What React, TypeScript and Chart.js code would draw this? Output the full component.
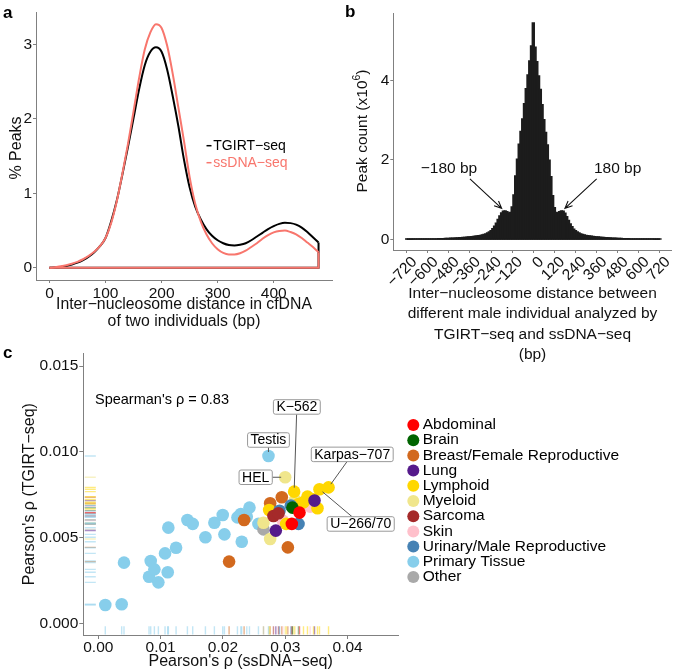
import React, { useEffect, useRef } from "react";
import { Chart, registerables } from "chart.js";

Chart.register(...registerables);

const FONT = '"Liberation Sans", Arial, Helvetica, sans-serif';
const AXIS_COLOR = "#808080";
const TEXT_COLOR = "#111111";
const CW = 675;
const CH = 672;

// ---------------- panel a : density of inter-nucleosome distances ----------------
const A_DIST = [0, 10, 20, 30, 40, 50, 60, 70, 80, 90, 100, 110, 120, 130, 140, 150, 160, 170, 180, 190, 200, 210, 220, 230, 240, 250, 260, 270, 280, 290, 300, 310, 320, 330, 340, 350, 360, 370, 380, 390, 400, 410, 420, 430, 440, 450, 460, 470, 480];
const A_TGIRT = [0, 0.005, 0.012, 0.025, 0.045, 0.07, 0.105, 0.15, 0.21, 0.29, 0.40, 0.62, 0.90, 1.25, 1.62, 2.01, 2.40, 2.72, 2.90, 2.96, 2.90, 2.66, 2.30, 1.90, 1.45, 1.08, 0.82, 0.65, 0.52, 0.43, 0.37, 0.33, 0.305, 0.30, 0.31, 0.33, 0.37, 0.42, 0.47, 0.52, 0.56, 0.59, 0.605, 0.60, 0.58, 0.54, 0.48, 0.41, 0.34];
const A_SSDNA = [0, 0.008, 0.02, 0.035, 0.055, 0.08, 0.115, 0.16, 0.215, 0.29, 0.40, 0.60, 0.89, 1.26, 1.66, 2.10, 2.55, 2.93, 3.16, 3.27, 3.22, 2.98, 2.60, 2.15, 1.70, 1.22, 0.86, 0.62, 0.45, 0.33, 0.25, 0.20, 0.18, 0.18, 0.195, 0.23, 0.28, 0.33, 0.39, 0.44, 0.475, 0.495, 0.50, 0.48, 0.45, 0.40, 0.34, 0.28, 0.21];
const A_XTICKS = [0, 100, 200, 300, 400];
const A_YTICKS = [0, 1, 2, 3];
const A_SERIES = ["TGIRT−seq", "ssDNA−seq"];

// ---------------- panel b : histogram of distances (x10^6) ----------------
const B_FIRST_BIN = -720;
const B_BIN_WIDTH = 10;
const B_COUNTS = [
  0.005, 0.006, 0.006, 0.006, 0.007, 0.007, 0.007,
  0.008, 0.008, 0.009, 0.009, 0.010, 0.010, 0.011, 0.011, 0.012, 0.013,
  0.014, 0.015, 0.016, 0.018, 0.019, 0.021, 0.023, 0.025, 0.027, 0.029,
  0.031, 0.034, 0.037, 0.040, 0.043, 0.046, 0.050, 0.055, 0.060, 0.064,
  0.068, 0.072, 0.078, 0.085, 0.092, 0.100, 0.110, 0.125, 0.140, 0.160,
  0.185, 0.220, 0.270, 0.330, 0.410, 0.500, 0.590, 0.670, 0.710, 0.720,
  0.700, 0.670, 0.680, 0.820, 1.120, 1.600, 2.020, 2.400, 2.720, 3.040,
  3.420, 3.800, 4.150, 4.500, 4.880,
  5.46,
  4.85, 4.48, 4.12, 3.78, 3.40, 3.02, 2.70, 2.38, 2.00, 1.58,
  1.10, 0.80, 0.68, 0.67, 0.70, 0.72, 0.71, 0.66, 0.57, 0.48,
  0.39, 0.32, 0.26, 0.22, 0.185, 0.16, 0.14, 0.125, 0.11, 0.10,
  0.092, 0.085, 0.078, 0.072, 0.068, 0.064, 0.060, 0.055, 0.050, 0.046,
  0.043, 0.040, 0.037, 0.034, 0.031, 0.029, 0.027, 0.025, 0.023, 0.021,
  0.019, 0.018, 0.016, 0.015, 0.014, 0.013, 0.012, 0.011, 0.011, 0.010,
  0.010, 0.009, 0.009, 0.008, 0.008, 0.007, 0.007, 0.007, 0.006, 0.006,
  0.006, 0.005,
];
const B_XTICKS = [-720, -600, -480, -360, -240, -120, 0, 120, 240, 360, 480, 600, 720];
const B_YTICKS = [0, 2, 4];
const B_ANNOT_TEXT = ["−180 bp", "180 bp"];
const B_ANNOT_TARGET_X = [-180, 180];
const B_ANNOT_TARGET_Y = [0.78, 0.78];

// ---------------- panel c : Pearson correlations ----------------
const C_GROUPS = ["Abdominal", "Brain", "Breast/Female Reproductive", "Lung", "Lymphoid", "Myeloid", "Sarcoma", "Skin", "Urinary/Male Reproductive", "Primary Tissue", "Other"];
const ABDOMINAL_X = [0.03229, 0.03106];
const ABDOMINAL_Y = [0.00646, 0.00580];
const BRAIN_X = [0.03116];
const BRAIN_Y = [0.00675];
const BREAST_X = [0.02099, 0.02340, 0.02758, 0.02945, 0.03042];
const BREAST_Y = [0.00360, 0.00603, 0.00700, 0.00735, 0.00443];
const LUNG_X = [0.03470, 0.02849];
const LUNG_Y = [0.00716, 0.00541];
const LYMPHOID_X = [0.03143, 0.03550, 0.03695, 0.03357, 0.03293, 0.03454, 0.03518, 0.02742, 0.03015, 0.03213];
const LYMPHOID_Y = [0.00768, 0.00782, 0.00793, 0.00739, 0.00706, 0.00723, 0.00671, 0.00661, 0.00580, 0.00696];
const MYELOID_X = [0.02999, 0.02651, 0.02758, 0.03159];
const MYELOID_Y = [0.00852, 0.00587, 0.00492, 0.00720];
const SARCOMA_X = [0.02811, 0.02892];
const SARCOMA_Y = [0.00626, 0.00642];
const SKIN_X = [0.02961, 0.03400];
const SKIN_Y = [0.00599, 0.00681];
const URINARY_X = [0.03213, 0.03090, 0.02908];
const URINARY_Y = [0.00580, 0.00687, 0.00657];
const PRIMARY_X = [0.00112, 0.00375, 0.00412, 0.00841, 0.00814, 0.00900, 0.00964, 0.01114, 0.01071, 0.01124, 0.01248, 0.01430, 0.01515, 0.01719, 0.01863, 0.01997, 0.02024, 0.02302, 0.02233, 0.02287, 0.02426, 0.02383, 0.02570, 0.02731];
const PRIMARY_Y = [0.00107, 0.00111, 0.00354, 0.00364, 0.00272, 0.00315, 0.00239, 0.00298, 0.00408, 0.00558, 0.00441, 0.00603, 0.00580, 0.00502, 0.00587, 0.00632, 0.00519, 0.00476, 0.00618, 0.00638, 0.00675, 0.00622, 0.00580, 0.00976];
const OTHER_X = [0.02651];
const OTHER_Y = [0.00548];
const C_XTICKS = [0, 0.01, 0.02, 0.03, 0.04];
const C_XTICK_LABELS = ["0.00", "0.01", "0.02", "0.03", "0.04"];
const C_YTICKS = [0, 0.005, 0.01, 0.015];
const C_YTICK_LABELS = ["0.000", "0.005", "0.010", "0.015"];
const C_SPEARMAN = "Spearman's ρ = 0.83";
const C_LABEL_TEXT = ["K−562", "Testis", "HEL", "Karpas−707", "U−266/70"];
const C_LABEL_GROUP = ["Lymphoid", "Primary Tissue", "Myeloid", "Lymphoid", "Lymphoid"];
const C_LABEL_INDEX = [0, 23, 0, 2, 1];

// ---------------- styles ----------------
const GROUP_COLORS: Record<string, string> = {
  Abdominal: "#FF0000",
  Brain: "#006400",
  "Breast/Female Reproductive": "#D2691E",
  Lung: "#551A8B",
  Lymphoid: "#FFD700",
  Myeloid: "#F0E68C",
  Sarcoma: "#A52A2A",
  Skin: "#FFC0CB",
  "Urinary/Male Reproductive": "#4682B4",
  "Primary Tissue": "#87CEEB",
  Other: "#A9A9A9",
};
const GROUP_DATA: Record<string, [number[], number[]]> = {
  Abdominal: [ABDOMINAL_X, ABDOMINAL_Y],
  Brain: [BRAIN_X, BRAIN_Y],
  "Breast/Female Reproductive": [BREAST_X, BREAST_Y],
  Lung: [LUNG_X, LUNG_Y],
  Lymphoid: [LYMPHOID_X, LYMPHOID_Y],
  Myeloid: [MYELOID_X, MYELOID_Y],
  Sarcoma: [SARCOMA_X, SARCOMA_Y],
  Skin: [SKIN_X, SKIN_Y],
  "Urinary/Male Reproductive": [URINARY_X, URINARY_Y],
  "Primary Tissue": [PRIMARY_X, PRIMARY_Y],
  Other: [OTHER_X, OTHER_Y],
};
// top-most first
const DRAW_ORDER = ["Abdominal", "Lung", "Brain", "Sarcoma", "Urinary/Male Reproductive", "Lymphoid", "Myeloid", "Skin", "Breast/Female Reproductive", "Other", "Primary Tissue"];
// label box centre offsets from point (px)
const LABEL_OFFSETS: [number, number][] = [[2.7, -84.7], [0, -16], [-29.5, 0], [23.7, -33], [41.2, 34.7]];

type TOpts = { size?: number; weight?: string; align?: CanvasTextAlign; baseline?: CanvasTextBaseline; color?: string; rot?: number };
function drawText(ctx: CanvasRenderingContext2D, s: string, x: number, y: number, o: TOpts = {}) {
  ctx.save();
  ctx.translate(x, y);
  if (o.rot) ctx.rotate(o.rot);
  ctx.font = `${o.weight ?? "normal"} ${o.size ?? 15.5}px ${FONT}`;
  ctx.fillStyle = o.color ?? TEXT_COLOR;
  ctx.textAlign = o.align ?? "center";
  ctx.textBaseline = o.baseline ?? "middle";
  ctx.fillText(s, 0, 0);
  ctx.restore();
}

function linScale(o: { min: number; max: number; ticks: number[]; fmt: (v: number) => string; size: number; horizontal: boolean; tickLen?: number; pad?: number; rot?: number; labelOffset?: number }) {
  return {
    type: "linear",
    bounds: "data",
    min: o.min,
    max: o.max,
    offset: false,
    afterBuildTicks: (s: any) => {
      s.ticks = o.ticks.map((v) => ({ value: v }));
    },
    afterFit: (s: any) => {
      if (o.horizontal) s.height = o.size;
      else s.width = o.size;
      s.paddingLeft = 0;
      s.paddingRight = 0;
      s.paddingTop = 0;
      s.paddingBottom = 0;
    },
    ticks: {
      autoSkip: false,
      padding: o.pad ?? 2,
      color: TEXT_COLOR,
      font: { family: FONT, size: 15.5 },
      maxRotation: o.rot ?? 0,
      minRotation: o.rot ?? 0,
      labelOffset: o.labelOffset ?? 0,
      callback: (v: any) => o.fmt(Number(v)),
    },
    grid: { display: true, drawOnChartArea: false, drawTicks: true, tickLength: o.tickLen ?? 3, color: AXIS_COLOR, lineWidth: 1, offset: false },
    border: { display: true, color: AXIS_COLOR, width: 1 },
  };
}

const baseOptions = {
  animation: false,
  responsive: false,
  devicePixelRatio: 1,
  events: [],
  plugins: { legend: { display: false }, tooltip: { enabled: false } },
};

// ---------- config a ----------
function configA(): any {
  const curve = (ys: number[], color: string) => ({
    data: A_DIST.map((x, i) => ({ x, y: ys[i] })),
    showLine: true,
    borderColor: color,
    borderWidth: 2,
    pointRadius: 0,
    cubicInterpolationMode: "monotone",
    fill: false,
  });
  const outline = (ys: number[], color: string) => ({
    data: [
      { x: A_DIST[A_DIST.length - 1], y: ys[ys.length - 1] },
      { x: A_DIST[A_DIST.length - 1], y: 0 },
      { x: A_DIST[0], y: 0 },
    ],
    showLine: true,
    borderColor: color,
    borderWidth: 2,
    pointRadius: 0,
    tension: 0,
    fill: false,
  });
  const colors = ["#000000", "#F8766D"];
  return {
    type: "scatter",
    data: {
      datasets: [outline(A_SSDNA, colors[1]), curve(A_SSDNA, colors[1]), outline(A_TGIRT, colors[0]), curve(A_TGIRT, colors[0])],
    },
    options: {
      ...baseOptions,
      layout: { padding: { left: 0, top: 12, right: CW - 332, bottom: CH - 280 - 25 } },
      scales: {
        x: linScale({ min: -24, max: 504, ticks: A_XTICKS, fmt: (v) => String(v), size: 25, horizontal: true, tickLen: 3, pad: 1 }),
        y: linScale({ min: -0.1635, max: 3.434, ticks: A_YTICKS, fmt: (v) => String(v), size: 36, horizontal: false, tickLen: 3, pad: 1 }),
      },
    },
    plugins: [
      {
        id: "panelA",
        afterDraw(chart: any) {
          const ctx = chart.ctx as CanvasRenderingContext2D;
          const ca = chart.chartArea;
          const cx = (ca.left + ca.right) / 2;
          drawText(ctx, "a", 3, 18, { size: 17, weight: "bold", align: "left", baseline: "alphabetic", color: "#000" });
          drawText(ctx, "% Peaks", 16.7, 148, { rot: -Math.PI / 2, size: 16 });
          drawText(ctx, "Inter−nucleosome distance in cfDNA", cx, 305, { size: 15.8 });
          drawText(ctx, "of two individuals (bp)", cx, 321.7, { size: 15.8 });
          const ly = [145.7, 162.7];
          A_SERIES.forEach((s, i) => {
            ctx.save();
            ctx.strokeStyle = colors[i];
            ctx.lineWidth = 1.5;
            ctx.beginPath();
            ctx.moveTo(206.5, ly[i]);
            ctx.lineTo(211.5, ly[i]);
            ctx.stroke();
            ctx.restore();
            drawText(ctx, s, 213.3, ly[i], { size: 14, align: "left", color: colors[i] });
          });
        },
      },
    ],
  };
}

// ---------- config b ----------
function configB(): any {
  const bars = B_COUNTS.map((y, i) => ({ x: B_FIRST_BIN + i * B_BIN_WIDTH, y }));
  const fmt = (v: number) => (v < 0 ? "\u2212" + String(Math.abs(v)) : String(v));
  const xSize = 50;
  return {
    type: "bar",
    data: {
      datasets: [
        {
          type: "line",
          data: [
            { x: bars[0].x, y: 0 },
            { x: bars[bars.length - 1].x, y: 0 },
          ],
          borderColor: "#1a1a1a",
          borderWidth: 1,
          pointRadius: 0,
          tension: 0,
        },
        {
          data: bars,
          backgroundColor: "#1c1c1c",
          borderWidth: 0,
          barPercentage: 1.25,
          categoryPercentage: 1,
          inflateAmount: 0.6,
          grouped: false,
        },
      ],
    },
    options: {
      ...baseOptions,
      layout: { padding: { left: 363.3, top: 13.3, right: 3.3, bottom: CH - 250 - xSize } },
      scales: {
        x: linScale({ min: -796, max: 787, ticks: B_XTICKS, fmt, size: xSize, horizontal: true, tickLen: 3, pad: 0, rot: 45, labelOffset: 8 }),
        y: linScale({ min: -0.27, max: 5.7, ticks: B_YTICKS, fmt: (v) => String(v), size: 30, horizontal: false, tickLen: 3, pad: 1 }),
      },
    },
    plugins: [
      {
        id: "panelB",
        afterDraw(chart: any) {
          const ctx = chart.ctx as CanvasRenderingContext2D;
          const ca = chart.chartArea;
          const xs = chart.scales.x;
          const ys = chart.scales.y;
          const cx = (ca.left + ca.right) / 2;
          drawText(ctx, "b", 345, 17, { size: 17, weight: "bold", align: "left", baseline: "alphabetic", color: "#000" });
          // y title with superscript
          ctx.save();
          ctx.translate(361.7, 131);
          ctx.rotate(-Math.PI / 2);
          ctx.fillStyle = TEXT_COLOR;
          ctx.textAlign = "left";
          ctx.textBaseline = "alphabetic";
          const big = `15.5px ${FONT}`;
          const small = `10.5px ${FONT}`;
          ctx.font = big;
          const s1 = "Peak count (x10";
          const w1 = ctx.measureText(s1).width;
          const w3 = ctx.measureText(")").width;
          ctx.font = small;
          const w2 = ctx.measureText("6").width;
          let x = -(w1 + w2 + w3) / 2;
          ctx.font = big;
          ctx.fillText(s1, x, 5.5);
          x += w1;
          ctx.font = small;
          ctx.fillText("6", x, -1.5);
          x += w2;
          ctx.font = big;
          ctx.fillText(")", x, 5.5);
          ctx.restore();
          const lines = ["Inter−nucleosome distance between", "different male individual analyzed by", "TGIRT−seq and ssDNA−seq", "(bp)"];
          const ly = [293.3, 314, 334.5, 355];
          lines.forEach((l, i) => drawText(ctx, l, cx, ly[i]));
          // arrows
          B_ANNOT_TEXT.forEach((t, i) => {
            const sgn = B_ANNOT_TARGET_X[i] < 0 ? -1 : 1;
            const tipX = xs.getPixelForValue(B_ANNOT_TARGET_X[i]);
            const tipY = ys.getPixelForValue(B_ANNOT_TARGET_Y[i]);
            const tailX = tipX + sgn * 31.7;
            const tailY = tipY - 29.5;
            ctx.save();
            ctx.strokeStyle = "#111";
            ctx.lineWidth = 1.1;
            ctx.beginPath();
            ctx.moveTo(tailX, tailY);
            ctx.lineTo(tipX, tipY);
            const a = Math.atan2(tipY - tailY, tipX - tailX);
            const L = 8;
            const th = 0.42;
            ctx.moveTo(tipX - L * Math.cos(a - th), tipY - L * Math.sin(a - th));
            ctx.lineTo(tipX, tipY);
            ctx.lineTo(tipX - L * Math.cos(a + th), tipY - L * Math.sin(a + th));
            ctx.stroke();
            ctx.restore();
            drawText(ctx, t, tailX + sgn * 21, tailY - 10.5);
          });
        },
      },
    ],
  };
}

// ---------- config c ----------
function configC(): any {
  const datasets = DRAW_ORDER.map((g) => {
    const [xs, ys] = GROUP_DATA[g];
    return {
      label: g,
      data: xs.map((x, i) => ({ x, y: ys[i] })),
      pointRadius: 6.3,
      pointBackgroundColor: GROUP_COLORS[g],
      pointBorderWidth: 0,
      pointBorderColor: GROUP_COLORS[g],
      showLine: false,
    };
  });
  const pickLabel = (v: number, ticks: number[], labels: string[]) => {
    const i = ticks.findIndex((t) => Math.abs(t - v) < 1e-9);
    return i >= 0 ? labels[i] : "";
  };
  return {
    type: "scatter",
    data: { datasets },
    options: {
      ...baseOptions,
      layout: { padding: { left: 23.3, top: 353.3, right: CW - 398, bottom: CH - 635 - 25 } },
      scales: {
        x: linScale({ min: -0.00241, max: 0.0481, ticks: C_XTICKS, fmt: (v) => pickLabel(v, C_XTICKS, C_XTICK_LABELS), size: 25, horizontal: true, tickLen: 4, pad: -1 }),
        y: linScale({ min: -0.00068, max: 0.01575, ticks: C_YTICKS, fmt: (v) => pickLabel(v, C_YTICKS, C_YTICK_LABELS), size: 60, horizontal: false, tickLen: 4, pad: 1 }),
      },
    },
    plugins: [
      {
        id: "panelC",
        beforeDatasetsDraw(chart: any) {
          const ctx = chart.ctx as CanvasRenderingContext2D;
          const ca = chart.chartArea;
          const xs = chart.scales.x;
          const ys = chart.scales.y;
          ctx.save();
          ctx.globalAlpha = 0.5;
          ctx.lineWidth = 1.4;
          C_GROUPS.forEach((g) => {
            const [gx, gy] = GROUP_DATA[g];
            ctx.strokeStyle = GROUP_COLORS[g];
            gx.forEach((v, i) => {
              const px = xs.getPixelForValue(v);
              const py = ys.getPixelForValue(gy[i]);
              ctx.beginPath();
              ctx.moveTo(px, ca.bottom - 0.5);
              ctx.lineTo(px, ca.bottom - 8.7);
              ctx.moveTo(ca.left + 1.5, py);
              ctx.lineTo(ca.left + 12.5, py);
              ctx.stroke();
            });
          });
          ctx.restore();
        },
        afterDatasetsDraw(chart: any) {
          const ctx = chart.ctx as CanvasRenderingContext2D;
          const xs = chart.scales.x;
          const ys = chart.scales.y;
          ctx.save();
          C_LABEL_TEXT.forEach((t, k) => {
            const [gx, gy] = GROUP_DATA[C_LABEL_GROUP[k]];
            const px = xs.getPixelForValue(gx[C_LABEL_INDEX[k]]);
            const py = ys.getPixelForValue(gy[C_LABEL_INDEX[k]]);
            const cx = px + LABEL_OFFSETS[k][0];
            const cy = py + LABEL_OFFSETS[k][1];
            ctx.font = `14px ${FONT}`;
            const w = ctx.measureText(t).width + 6;
            const h = 14.5;
            const x0 = cx - w / 2;
            const y0 = cy - h / 2;
            const dx = px - cx;
            const dy = py - cy;
            const tx = dx !== 0 ? w / 2 / Math.abs(dx) : Infinity;
            const ty = dy !== 0 ? h / 2 / Math.abs(dy) : Infinity;
            const tEdge = Math.min(tx, ty);
            const len = Math.hypot(dx, dy);
            const tEnd = Math.max(tEdge, 1 - 4 / len);
            ctx.strokeStyle = "#555";
            ctx.lineWidth = 1;
            ctx.beginPath();
            ctx.moveTo(cx + dx * tEdge, cy + dy * tEdge);
            ctx.lineTo(cx + dx * tEnd, cy + dy * tEnd);
            ctx.stroke();
            ctx.fillStyle = "#fff";
            ctx.strokeStyle = "#999";
            ctx.beginPath();
            (ctx as any).roundRect(x0, y0, w, h, 2);
            ctx.fill();
            ctx.stroke();
            drawText(ctx, t, cx, cy + 0.5, { size: 14, color: "#000" });
          });
          ctx.restore();
        },
        afterDraw(chart: any) {
          const ctx = chart.ctx as CanvasRenderingContext2D;
          const ca = chart.chartArea;
          drawText(ctx, "c", 3, 358, { size: 17, weight: "bold", align: "left", baseline: "alphabetic", color: "#000" });
          drawText(ctx, "Pearson's ρ (TGIRT−seq)", 30, (ca.top + ca.bottom) / 2, { rot: -Math.PI / 2, size: 16 });
          drawText(ctx, "Pearson's ρ (ssDNA−seq)", (ca.left + ca.right) / 2, 661.7, { size: 16 });
          drawText(ctx, C_SPEARMAN, 95, 400, { size: 14.5, align: "left", color: "#000" });
          C_GROUPS.forEach((g, i) => {
            const y = 425 + i * 15.2;
            ctx.save();
            ctx.fillStyle = GROUP_COLORS[g];
            ctx.beginPath();
            ctx.arc(413.3, y, 6, 0, Math.PI * 2);
            ctx.fill();
            ctx.restore();
            drawText(ctx, g, 422.7, y, { size: 15.5, align: "left", color: "#000" });
          });
        },
      },
    ],
  };
}

export default function App() {
  const ra = useRef<HTMLCanvasElement>(null);
  const rb = useRef<HTMLCanvasElement>(null);
  const rc = useRef<HTMLCanvasElement>(null);
  useEffect(() => {
    const charts = [new Chart(ra.current!, configA()), new Chart(rb.current!, configB()), new Chart(rc.current!, configC())];
    return () => charts.forEach((c) => c.destroy());
  }, []);
  const cs: React.CSSProperties = { position: "absolute", left: 0, top: 0, width: CW, height: CH };
  return (
    <div style={{ position: "fixed", left: 0, top: 0, width: CW, height: CH, background: "#fff", overflow: "hidden" }}>
      <canvas ref={ra} width={CW} height={CH} style={cs} />
      <canvas ref={rb} width={CW} height={CH} style={cs} />
      <canvas ref={rc} width={CW} height={CH} style={cs} />
    </div>
  );
}
